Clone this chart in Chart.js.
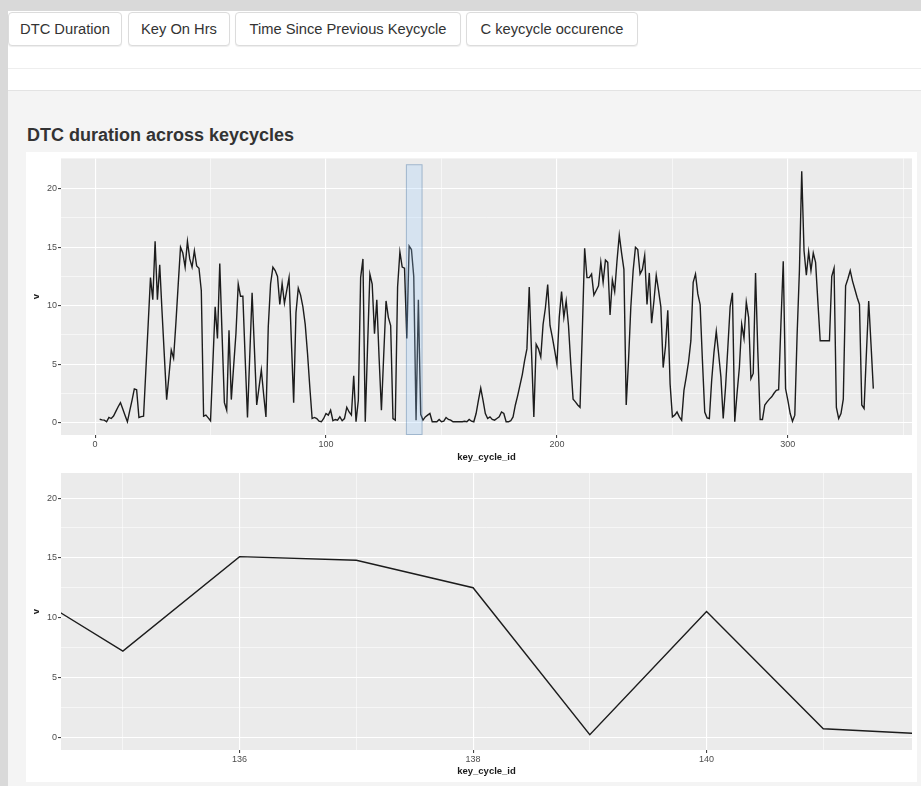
<!DOCTYPE html>
<html>
<head>
<meta charset="utf-8">
<title>DTC duration across keycycles</title>
<script src="https://cdn.jsdelivr.net/npm/chart.js@4.4.1/dist/chart.umd.min.js"></script>
<style>
  body { margin: 0; width: 921px; height: 786px; background: #d9d9d9; position: relative; overflow: hidden;
         font-family: "Liberation Sans", Arial, Helvetica, sans-serif; }
  #barra { position: absolute; left: 8px; top: 11px; right: 0; height: 79px; background: #fff; }
  #barra .linha { position: absolute; left: 0; right: 0; top: 57px; border-top: 1px solid #eeeeee; }
  .aba { position: absolute; top: 1px; height: 34px; box-sizing: border-box; border: 1px solid #dcdcdc;
         border-radius: 4px; background: #fff; box-shadow: 0 1px 1px rgba(0,0,0,0.07);
         font-size: 14.7px; color: #333; line-height: 32px; text-align: center; white-space: nowrap; }
  #painel { position: absolute; left: 8px; top: 90px; right: 0; bottom: 0; background: #f4f4f4; border-top: 1px solid #e3e3e3; }
  #titulo { position: absolute; left: 27px; top: 124px; margin: 0; font-size: 18px; font-weight: bold; color: #333; line-height: 22px; }
  #cartao { position: absolute; left: 26px; top: 152px; width: 891px; height: 630px; background: #fff; }
  canvas { position: absolute; left: 26px; }
</style>
</head>
<body>
<div id="barra">
  <div class="aba" style="left:0;width:114px">DTC Duration</div>
  <div class="aba" style="left:120px;width:102px">Key On Hrs</div>
  <div class="aba" style="left:227px;width:226px">Time Since Previous Keycycle</div>
  <div class="aba" style="left:458px;width:172px">C keycycle occurence</div>
  <div class="linha"></div>
</div>
<div id="painel"></div>
<h3 id="titulo">DTC duration across keycycles</h3>
<div id="cartao"></div>
<canvas id="grafico-geral" width="891" height="313" style="top:152px"></canvas>
<canvas id="grafico-zoom" width="891" height="317" style="top:465px"></canvas>

<script>
const keyCycleIds = [
    2, 3, 4, 5, 6, 7, 8, 9, 10, 11,
    12, 13, 14, 15, 16, 17, 18, 19, 20, 21,
    22, 23, 24, 25, 26, 27, 28, 29, 30, 31,
    32, 33, 34, 35, 36, 37, 38, 39, 40, 41,
    42, 43, 44, 45, 46, 47, 48, 49, 50, 51,
    52, 53, 54, 55, 56, 57, 58, 59, 60, 61,
    62, 63, 64, 65, 66, 67, 68, 69, 70, 71,
    72, 73, 74, 75, 76, 77, 78, 79, 80, 81,
    82, 83, 84, 85, 86, 87, 88, 89, 90, 91,
    92, 93, 94, 95, 96, 97, 98, 99, 100, 101,
    102, 103, 104, 105, 106, 107, 108, 109, 110, 111,
    112, 113, 114, 115, 116, 117, 118, 119, 120, 121,
    122, 123, 124, 125, 126, 127, 128, 129, 130, 131,
    132, 133, 134, 135, 136, 137, 138, 139, 140, 141,
    142, 143, 144, 145, 146, 147, 148, 149, 150, 151,
    152, 153, 154, 155, 156, 157, 158, 159, 160, 161,
    162, 163, 164, 165, 166, 167, 168, 169, 170, 171,
    172, 173, 174, 175, 176, 177, 178, 179, 180, 181,
    182, 183, 184, 185, 186, 187, 188, 189, 190, 191,
    192, 193, 194, 195, 196, 197, 198, 199, 200, 201,
    202, 203, 204, 205, 206, 207, 208, 209, 210, 211,
    212, 213, 214, 215, 216, 217, 218, 219, 220, 221,
    222, 223, 224, 225, 226, 227, 228, 229, 230, 231,
    232, 233, 234, 235, 236, 237, 238, 239, 240, 241,
    242, 243, 244, 245, 246, 247, 248, 249, 250, 251,
    252, 253, 254, 255, 256, 257, 258, 259, 260, 261,
    262, 263, 264, 265, 266, 267, 268, 269, 270, 271,
    272, 273, 274, 275, 276, 277, 278, 279, 280, 281,
    282, 283, 284, 285, 286, 287, 288, 289, 290, 291,
    292, 293, 294, 295, 296, 297, 298, 299, 300, 301,
    302, 303, 304, 305, 306, 307, 308, 309, 310, 311,
    312, 313, 314, 315, 316, 317, 318, 319, 320, 321,
    322, 323, 324, 325, 326, 327, 328, 329, 330, 331,
    332, 333, 334, 335, 336, 337
];

// v (duracao do DTC) por key cycle
const dtcDuration = [
    0.28, 0.22, 0.2, 0.06, 0.43, 0.34, 0.55, 0.95, 1.35, 1.7,
    1.15, 0.6, 0.06, 1.0, 1.9, 2.87, 2.8, 0.43, 0.5, 0.54,
    4.5, 8.4, 12.4, 10.5, 15.5, 10.5, 13.5, 9.5, 5.7, 1.96,
    4.0, 6.2, 5.5, 8.5, 11.8, 15.0, 14.5, 13.3, 15.5, 14.0,
    13.3, 14.7, 13.4, 13.2, 11.3, 0.54, 0.63, 0.4, 0.15, 5.0,
    9.9, 7.2, 13.6, 7.5, 1.7, 1.05, 7.9, 1.96, 4.8, 7.6,
    11.85, 10.8, 10.8, 5.5, 0.43, 5.8, 11.1, 6.3, 1.5, 3.0,
    4.5, 2.4, 0.48, 8.2, 11.85, 13.3, 13.0, 12.5, 10.1, 11.9,
    10.2, 11.3, 12.4, 7.0, 1.7, 9.4, 11.5, 10.9, 9.9, 8.4,
    5.9, 3.0, 0.34, 0.43, 0.34, 0.11, 0.06, 0.34, 0.77, 0.63,
    1.05, 0.15, 0.26, 0.2, 0.48, 0.15, 0.34, 1.3, 0.9, 0.63,
    4.0, 0.06, 1.9, 12.4, 14.0, 0.06, 6.5, 12.7, 11.85, 7.6,
    10.5, 5.5, 1.05, 5.8, 10.4, 9.0, 8.3, 0.34, 0.2, 11.6,
    14.6, 13.3, 13.2, 7.2, 15.1, 14.8, 12.5, 0.2, 10.5, 0.7,
    0.2, 0.48, 0.63, 0.77, 0.06, 0.06, 0.06, 0.26, 0.06, 0.11,
    0.43, 0.26, 0.2, 0.06, 0.06, 0.06, 0.06, 0.06, 0.11, 0.06,
    0.26, 0.11, 0.06, 0.77, 1.9, 2.95, 1.9, 0.77, 0.34, 0.48,
    0.26, 0.2, 0.34, 0.48, 0.9, 0.77, 0.06, 0.06, 0.15, 0.48,
    1.5, 2.3, 3.2, 4.1, 5.3, 6.3, 11.6, 6.0, 0.48, 6.7,
    6.3, 5.6, 8.4, 9.8, 11.8, 8.3, 7.3, 6.2, 5.0, 9.0,
    11.2, 9.0, 10.4, 8.3, 5.0, 2.0, 1.76, 1.5, 1.3, 7.9,
    14.9, 12.4, 12.4, 12.7, 10.9, 11.3, 11.7, 13.7, 12.0, 13.9,
    13.7, 9.2, 12.2, 11.2, 13.8, 16.05, 14.5, 13.1, 1.5, 5.3,
    9.9, 13.0, 15.0, 14.8, 12.7, 13.1, 14.3, 10.1, 12.8, 8.5,
    10.4, 12.6, 11.3, 9.9, 4.7, 6.5, 9.6, 3.3, 0.48, 0.63,
    0.9, 0.48, 0.2, 2.75, 3.9, 5.2, 7.0, 12.0, 12.7, 11.0,
    10.1, 5.3, 0.9, 0.4, 0.34, 3.6, 6.0, 7.8, 5.9, 3.9,
    0.34, 3.0, 6.4, 9.9, 11.1, 0.06, 2.5, 4.7, 8.4, 7.2,
    10.3, 9.0, 3.75, 4.2, 12.8, 6.0, 0.26, 0.26, 1.5, 1.76,
    2.0, 2.2, 2.5, 2.75, 2.8, 8.5, 13.8, 2.9, 1.9, 0.77,
    0.11, 0.63, 7.5, 13.0, 21.5, 14.7, 12.6, 14.6, 13.0, 14.5,
    13.7, 10.3, 7.0, 7.0, 7.0, 7.0, 7.0, 12.5, 13.2, 1.3,
    0.34, 0.77, 2.0, 11.7, 12.3, 13.0, 12.1, 11.4, 10.7, 10.1,
    1.5, 1.2, 5.9, 10.4, 6.7, 2.9
];

const yTicks = [0, 5, 10, 15, 20];
const yMinor = [2.5, 7.5, 12.5, 17.5];
const xTicksGeral = [0, 100, 200, 300];
const xMinorGeral = [50, 150, 250, 350];
const xTicksZoom = [136, 138, 140];
const xMinorZoom = [135, 137, 139, 141];

const limitesGeralX = [-14.75, 353.75];
const limitesGeralY = [-1.07, 22.6];
const brushX = [134.6, 141.8];   // selecao (brush) no grafico de cima
const brushY = [-1.07, 22.1];
const limitesZoomX = [134.47, 141.76];
const limitesZoomY = [-1.08, 22.1];

const pontos = keyCycleIds.map((id, i) => ({ x: id, y: dtcDuration[i] }));

const fundoPainel = {
    id: "fundoPainel",
    beforeDraw(chart) {
        const a = chart.chartArea;
        const ctx = chart.ctx;
        ctx.save();
        ctx.fillStyle = "#ebebeb";
        ctx.fillRect(a.left, a.top, a.right - a.left, a.bottom - a.top);
        ctx.restore();
    }
};

const desenhaBrush = {
    id: "desenhaBrush",
    afterDatasetsDraw(chart) {
        const { x, y } = chart.scales;
        const x0 = x.getPixelForValue(brushX[0]);
        const x1 = x.getPixelForValue(brushX[1]);
        const y0 = y.getPixelForValue(brushY[1]);
        const y1 = y.getPixelForValue(brushY[0]);
        const ctx = chart.ctx;
        ctx.save();
        ctx.fillStyle = "rgba(153,204,255,0.25)";
        ctx.strokeStyle = "rgba(0,51,102,0.25)";
        ctx.lineWidth = 1;
        ctx.fillRect(x0, y0, x1 - x0, y1 - y0);
        ctx.strokeRect(x0 + 0.5, y0 + 0.5, x1 - x0 - 1, y1 - y0 - 1);
        ctx.restore();
    }
};

function eixo(maiores, menores, limites, extra) {
    const todos = maiores.concat(menores);
    return Object.assign({
        type: "linear",
        min: limites[0],
        max: limites[1],
        border: { display: false },
        afterBuildTicks: (s) => { s.ticks = todos.map(v => ({ value: v })); },
        grid: {
            color: "#ffffff",
            lineWidth: (c) => maiores.includes(c.tick && c.tick.value) ? 1.1 : 0.55,
            tickColor: (c) => maiores.includes(c.tick && c.tick.value) ? "#444" : "rgba(0,0,0,0)",
            tickLength: 3,
            drawTicks: true
        },
        ticks: {
            autoSkip: false,
            maxRotation: 0,
            padding: 1,
            color: "#4d4d4d",
            font: { family: "Liberation Sans", size: 9 },
            callback: (v) => maiores.includes(v) ? String(v) : ""
        }
    }, extra);
}

function criaGrafico(canvas, limX, limY, ticksX, minorX, alturaX, paddingTop, tituloPad, plugins) {
    return new Chart(canvas, {
        type: "line",
        data: {
            datasets: [{
                data: pontos,
                borderColor: "#1c1c1c",
                borderWidth: 1.4,
                pointRadius: 0,
                tension: 0,
                fill: false
            }]
        },
        options: {
            responsive: false,
            animation: false,
            devicePixelRatio: 1,
            layout: { padding: { top: paddingTop, right: 5, left: 0, bottom: 0 } },
            plugins: { legend: { display: false }, tooltip: { enabled: false } },
            scales: {
                x: eixo(ticksX, minorX, limX, {
                    afterFit: (s) => { s.height = alturaX; },
                    title: {
                        display: true, text: "key_cycle_id", color: "#1a1a1a",
                        font: { family: "Liberation Sans", size: 9.5, weight: "bold" },
                        padding: { top: 0, bottom: tituloPad }
                    }
                }),
                y: eixo(yTicks, yMinor, limY, {
                    afterFit: (s) => { s.width = 35; },
                    title: {
                        display: true, text: "v", color: "#1a1a1a",
                        font: { family: "Liberation Sans", size: 9.5, weight: "bold" },
                        padding: { top: 5, bottom: 0 }
                    }
                })
            }
        },
        plugins: plugins
    });
}

criaGrafico(document.getElementById("grafico-geral"), limitesGeralX, limitesGeralY,
    xTicksGeral, xMinorGeral, 30, 6, 2, [fundoPainel, desenhaBrush]);
criaGrafico(document.getElementById("grafico-zoom"), limitesZoomX, limitesZoomY,
    xTicksZoom, xMinorZoom, 32, 8, 5, [fundoPainel]);
</script>
</body>
</html>
